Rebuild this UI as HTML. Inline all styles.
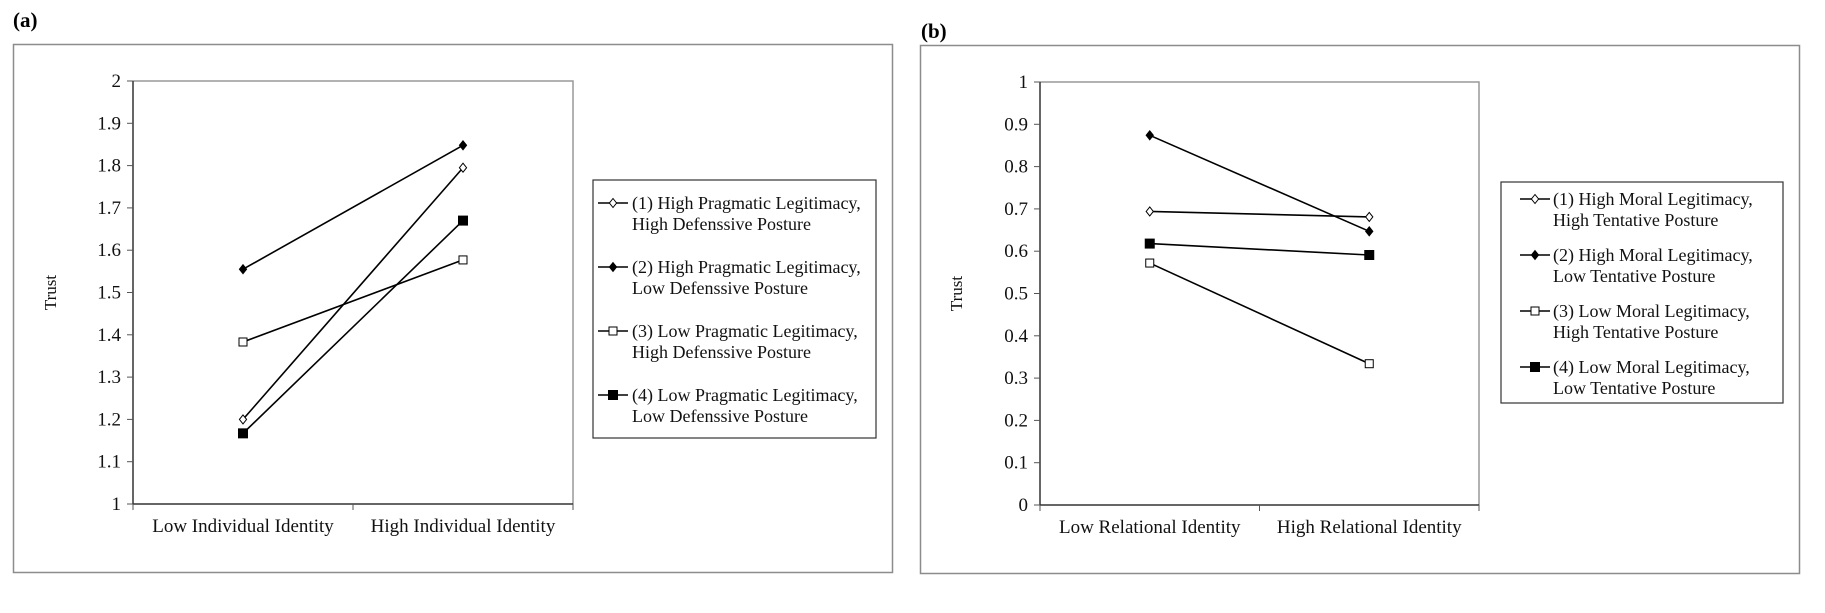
<!DOCTYPE html>
<html><head><meta charset="utf-8"><style>
html,body{margin:0;padding:0;background:#fff;}
svg{display:block;font-family:"Liberation Serif",serif;}
</style></head><body>
<svg id="fig" width="1825" height="613" viewBox="0 0 1825 613">
<text x="13" y="27" font-size="21" font-weight="bold">(a)</text>
<rect x="13.5" y="44.5" width="879" height="528" fill="none" stroke="#8c8c8c" stroke-width="1.5"/>
<text x="921" y="38" font-size="21" font-weight="bold">(b)</text>
<rect x="920.5" y="45.5" width="879" height="528" fill="none" stroke="#8c8c8c" stroke-width="1.5"/>
<g id="ga"></g><g id="gb"></g>
</svg>
<script>
// Panel A data
const catsA = ["Low Individual Identity", "High Individual Identity"];
const a1 = [1.20, 1.795];
const a2 = [1.555, 1.848];
const a3 = [1.383, 1.577];
const a4 = [1.167, 1.670];
const ticksA = ["1","1.1","1.2","1.3","1.4","1.5","1.6","1.7","1.8","1.9","2"];
const legA1 = ["(1) High Pragmatic Legitimacy,", "High Defenssive Posture"];
const legA2 = ["(2) High Pragmatic Legitimacy,", "Low Defenssive Posture"];
const legA3 = ["(3) Low Pragmatic Legitimacy,", "High Defenssive Posture"];
const legA4 = ["(4) Low Pragmatic Legitimacy,", "Low Defenssive Posture"];
// Panel B data
const catsB = ["Low Relational Identity", "High Relational Identity"];
const b1 = [0.694, 0.681];
const b2 = [0.874, 0.647];
const b3 = [0.572, 0.334];
const b4 = [0.618, 0.591];
const ticksB = ["0","0.1","0.2","0.3","0.4","0.5","0.6","0.7","0.8","0.9","1"];
const legB1 = ["(1) High Moral  Legitimacy,", "High Tentative Posture"];
const legB2 = ["(2) High Moral  Legitimacy,", "Low Tentative Posture"];
const legB3 = ["(3) Low Moral  Legitimacy,", "High Tentative Posture"];
const legB4 = ["(4) Low Moral  Legitimacy,", "Low Tentative Posture"];

const NS="http://www.w3.org/2000/svg";
function mk(parent,tag,attrs){const e=document.createElementNS(NS,tag);for(const k in attrs)e.setAttribute(k,attrs[k]);parent.appendChild(e);return e;}

function marker(g,type,x,y){
  let e;
  if(type===0||type===1){
    const s=4.5;
    e=mk(g,'polygon',{points:`${x},${y-s} ${x+s*0.8},${y} ${x},${y+s} ${x-s*0.8},${y}`,fill:type===1?'#000':'#fff',stroke:'#000','stroke-width':1});
  } else {
    const s=type===3?4.5:4;
    e=mk(g,'rect',{x:x-s,y:y-s,width:2*s,height:2*s,fill:type===3?'#000':'#fff',stroke:'#000','stroke-width':1});
  }
  
  
}

function panel(gid,cfg){
  const g=document.getElementById(gid);
  const {L,R,T,B,ymin,ymax,ticks,cats,series,legs,leg}=cfg;
  const ys=v=>B-(v-ymin)/(ymax-ymin)*(B-T);
  const band=(R-L)/cats.length;
  const xs=i=>L+band*(i+0.5);
  const top=mk(g,'polyline',{points:`${L},${T} ${R},${T} ${R},${B}`,fill:'none',stroke:'#999','stroke-width':1.5});
  
  
  const ya=mk(g,'line',{x1:L,y1:T,x2:L,y2:B,stroke:'#333','stroke-width':1.5});
  
  
  const xa=mk(g,'line',{x1:L,y1:B,x2:R,y2:B,stroke:'#333','stroke-width':1.5});
  
  
  ticks.forEach(t=>{
    const y=ys(parseFloat(t));
    const tl=mk(g,'line',{x1:L-6,y1:y,x2:L,y2:y,stroke:'#555','stroke-width':1});
    
    
    const tx=mk(g,'text',{x:L-12,y:y+6,'font-size':19,'text-anchor':'end',fill:'#111'});
    tx.textContent=t;
    
    
  });
  for(let i=0;i<=cats.length;i++){
    const x=L+band*i;
    const tk=mk(g,'line',{x1:x,y1:B,x2:x,y2:B+6,stroke:'#555','stroke-width':1});
    
    
  }
  cats.forEach((c,i)=>{
    const tx=mk(g,'text',{x:xs(i),y:B+28,'font-size':19,'text-anchor':'middle',fill:'#111'});
    tx.textContent=c;
    
    
  });
  const yt=mk(g,'text',{x:cfg.tx,y:(T+B)/2,'font-size':17,'text-anchor':'middle',transform:`rotate(-90 ${cfg.tx} ${(T+B)/2})`,fill:'#111'});
  yt.textContent='Trust';
  
  
  series.forEach((s,k)=>{
    const pl=mk(g,'polyline',{points:s.map((v,i)=>`${xs(i)},${ys(v)}`).join(' '),fill:'none',stroke:'#000','stroke-width':1.6});
    
    
    s.forEach((v,i)=>marker(g,k,xs(i),ys(v)));
  });
  const lb=mk(g,'rect',{x:leg.x,y:leg.y,width:leg.w,height:leg.h,fill:'#fff',stroke:'#333','stroke-width':1.2});
  
  
  legs.forEach((lines,k)=>{
    const by=leg.b0+k*leg.step;
    const cy=by-6;
    const ln=mk(g,'line',{x1:leg.mx-15,y1:cy,x2:leg.mx+15,y2:cy,stroke:'#000','stroke-width':1.5});
    
    
    marker(g,k,leg.mx,cy);
    lines.forEach((t,j)=>{
      const tx=mk(g,'text',{x:leg.tx,y:by+j*21,'font-size':18,fill:'#111','xml:space':'preserve'});
      tx.textContent=t;
      
      
    });
  });
}
panel('ga',{L:133,R:573,T:81,B:504,ymin:1,ymax:2,ticks:ticksA,cats:catsA,series:[a1,a2,a3,a4],legs:[legA1,legA2,legA3,legA4],tx:56,
  leg:{x:593,y:180,w:283,h:258,b0:209,step:64,mx:613,tx:632}});
panel('gb',{L:1040,R:1479,T:82,B:505,ymin:0,ymax:1,ticks:ticksB,cats:catsB,series:[b1,b2,b3,b4],legs:[legB1,legB2,legB3,legB4],tx:962,
  leg:{x:1501,y:182,w:282,h:221,b0:205,step:56,mx:1535,tx:1553}});
</script>
</body></html>
